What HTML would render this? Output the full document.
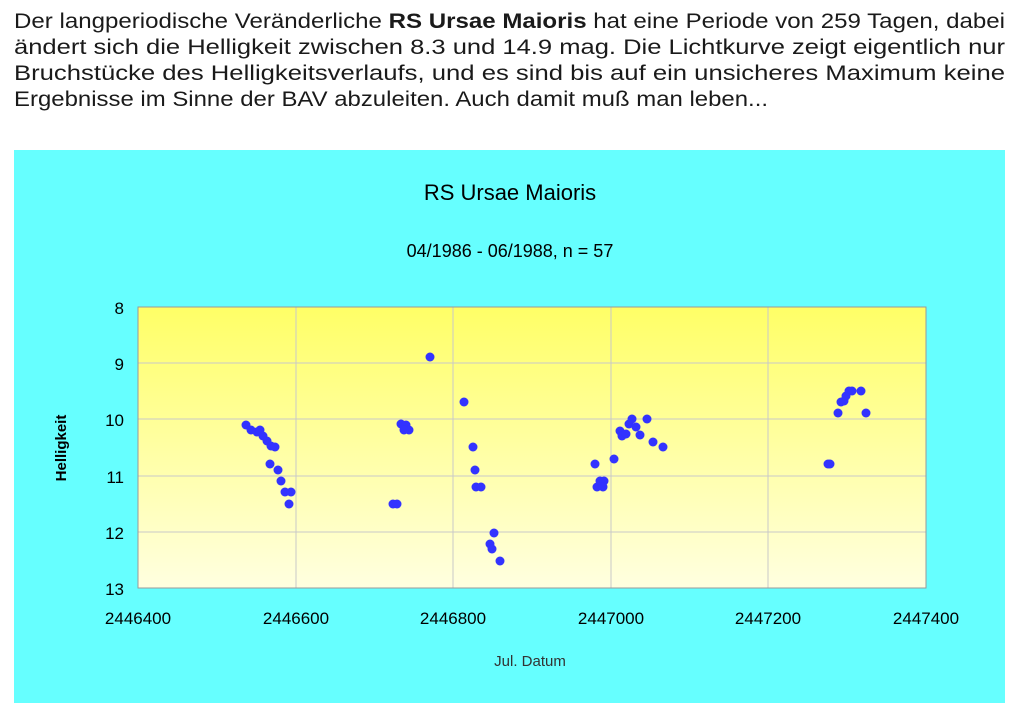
<!DOCTYPE html>
<html><head><meta charset="utf-8"><style>
body{margin:0;width:1017px;height:720px;background:#fff;font-family:"Liberation Sans",sans-serif;overflow:hidden;position:relative}
</style></head><body>
<svg width="1017" height="720" style="position:absolute;left:0;top:0" font-family="Liberation Sans, sans-serif">
<g font-size="21" fill="#1a1a1a">
<text x="14" y="28" textLength="991" lengthAdjust="spacingAndGlyphs">Der langperiodische Veränderliche <tspan font-weight="bold">RS Ursae Maioris</tspan> hat eine Periode von 259 Tagen, dabei</text>
<text x="14" y="54" textLength="991" lengthAdjust="spacingAndGlyphs">ändert sich die Helligkeit zwischen 8.3 und 14.9 mag. Die Lichtkurve zeigt eigentlich nur</text>
<text x="14" y="80" textLength="991" lengthAdjust="spacingAndGlyphs">Bruchstücke des Helligkeitsverlaufs, und es sind bis auf ein unsicheres Maximum keine</text>
<text x="14" y="106" textLength="754" lengthAdjust="spacingAndGlyphs">Ergebnisse im Sinne der BAV abzuleiten. Auch damit muß man leben...</text>
</g>
<defs><linearGradient id="g" x1="0" y1="0" x2="0" y2="1"><stop offset="0" stop-color="#ffff66"/><stop offset="1" stop-color="#ffffe0"/></linearGradient></defs>
<rect x="14" y="150" width="991" height="553" fill="#66ffff"/>
<rect x="138" y="307" width="788" height="281" fill="url(#g)"/>
<g stroke="#c8c8c8" stroke-width="1">
<line x1="138" y1="363" x2="926" y2="363"/><line x1="138" y1="419" x2="926" y2="419"/><line x1="138" y1="476" x2="926" y2="476"/><line x1="138" y1="532" x2="926" y2="532"/>
<line x1="296" y1="307" x2="296" y2="588"/><line x1="453" y1="307" x2="453" y2="588"/><line x1="611" y1="307" x2="611" y2="588"/><line x1="768" y1="307" x2="768" y2="588"/>
</g>
<rect x="138" y="307" width="788" height="281" fill="none" stroke="#999"/>
<text x="510" y="200" font-size="22" text-anchor="middle">RS Ursae Maioris</text>
<text x="510" y="257" font-size="18" text-anchor="middle">04/1986 - 06/1988, n = 57</text>
<g font-size="17" text-anchor="end"><text x="124" y="314">8</text><text x="124" y="370">9</text><text x="124" y="426">10</text><text x="124" y="483">11</text><text x="124" y="539">12</text><text x="124" y="595">13</text></g>
<g font-size="17" text-anchor="middle"><text x="138" y="624">2446400</text><text x="296" y="624">2446600</text><text x="453" y="624">2446800</text><text x="611" y="624">2447000</text><text x="768" y="624">2447200</text><text x="926" y="624">2447400</text></g>
<text x="530" y="666" font-size="15" text-anchor="middle" fill="#333">Jul. Datum</text>
<text x="66" y="448" font-size="15" font-weight="bold" text-anchor="middle" transform="rotate(-90 66 448)">Helligkeit</text>
<g fill="#3333ff">
<circle cx="246" cy="425" r="4.5"/><circle cx="251" cy="430" r="4.5"/><circle cx="257" cy="432" r="4.5"/><circle cx="260" cy="430" r="4.5"/><circle cx="263" cy="436" r="4.5"/><circle cx="267" cy="441" r="4.5"/><circle cx="271" cy="446" r="4.5"/><circle cx="275" cy="447" r="4.5"/><circle cx="270" cy="464" r="4.5"/><circle cx="278" cy="470" r="4.5"/><circle cx="281" cy="481" r="4.5"/><circle cx="285" cy="492" r="4.5"/><circle cx="291" cy="492" r="4.5"/><circle cx="289" cy="504" r="4.5"/>
<circle cx="393" cy="504" r="4.5"/><circle cx="397" cy="504" r="4.5"/><circle cx="401" cy="424" r="4.5"/><circle cx="406" cy="425" r="4.5"/><circle cx="409" cy="430" r="4.5"/><circle cx="404" cy="430" r="4.5"/><circle cx="430" cy="357" r="4.5"/>
<circle cx="464" cy="402" r="4.5"/><circle cx="473" cy="447" r="4.5"/><circle cx="475" cy="470" r="4.5"/><circle cx="476" cy="487" r="4.5"/><circle cx="481" cy="487" r="4.5"/><circle cx="490" cy="544" r="4.5"/><circle cx="492" cy="549" r="4.5"/><circle cx="494" cy="533" r="4.5"/><circle cx="500" cy="561" r="4.5"/>
<circle cx="595" cy="464" r="4.5"/><circle cx="597" cy="487" r="4.5"/><circle cx="600" cy="481" r="4.5"/><circle cx="604" cy="481" r="4.5"/><circle cx="603" cy="487" r="4.5"/><circle cx="614" cy="459" r="4.5"/><circle cx="620" cy="431" r="4.5"/><circle cx="622" cy="436" r="4.5"/><circle cx="626" cy="434" r="4.5"/><circle cx="629" cy="424" r="4.5"/><circle cx="632" cy="419" r="4.5"/><circle cx="636" cy="427" r="4.5"/><circle cx="640" cy="435" r="4.5"/><circle cx="647" cy="419" r="4.5"/><circle cx="653" cy="442" r="4.5"/><circle cx="663" cy="447" r="4.5"/>
<circle cx="828" cy="464" r="4.5"/><circle cx="830" cy="464" r="4.5"/><circle cx="838" cy="413" r="4.5"/><circle cx="841" cy="402" r="4.5"/><circle cx="844" cy="401" r="4.5"/><circle cx="846" cy="396" r="4.5"/><circle cx="849" cy="391" r="4.5"/><circle cx="852" cy="391" r="4.5"/><circle cx="861" cy="391" r="4.5"/><circle cx="866" cy="413" r="4.5"/>
</g>
</svg>
</body></html>
